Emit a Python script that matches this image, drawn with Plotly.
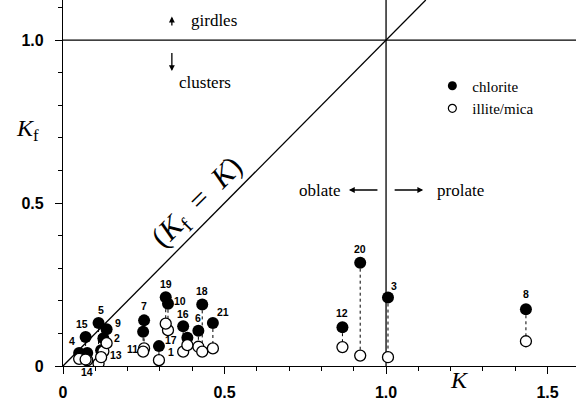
import plotly.graph_objects as go

# Sample numbers and shape parameters (K on x, Kf on y)
sample_ids = [1, 2, 3, 4, 5, 6, 7, 8, 9, 10, 11, 12, 13, 14, 15, 16, 17, 18, 19, 20, 21]
k_values = [0.297, 0.125, 1.006, 0.050, 0.110, 0.419, 0.251, 1.433, 0.135, 0.325, 0.248,
            0.865, 0.118, 0.075, 0.070, 0.372, 0.385, 0.431, 0.318, 0.920, 0.464]
kf_chlorite = [0.061, 0.085, 0.210, 0.040, 0.132, 0.108, 0.140, 0.174, 0.113, 0.191, 0.105,
               0.119, 0.048, 0.040, 0.089, 0.122, 0.087, 0.189, 0.211, 0.317, 0.132]
kf_illite = [0.018, 0.045, 0.027, 0.022, 0.008, 0.059, 0.054, 0.076, 0.070, 0.110, 0.044,
             0.058, 0.027, 0.018, 0.020, 0.044, 0.064, 0.044, 0.130, 0.032, 0.054]

X_MAX = 1.588
Y_MAX = 1.123

SERIF = "Liberation Serif, Times New Roman, serif"
SANS = "Liberation Sans, Arial, sans-serif"

fig = go.Figure()

# Reference lines: Kf = K diagonal, Kf = 1 and K = 1
for xs, ys in (([0, Y_MAX], [0, Y_MAX]), ([0, X_MAX], [1, 1]), ([1, 1], [0, Y_MAX])):
    fig.add_trace(go.Scatter(x=xs, y=ys, mode="lines", line=dict(color="black", width=1.3),
                             showlegend=False, hoverinfo="skip"))

# Dotted tie lines between the two minerals of each sample
tie_x, tie_y = [], []
for k, c, i in zip(k_values, kf_chlorite, kf_illite):
    tie_x += [k, k, None]
    tie_y += [c, i, None]
fig.add_trace(go.Scatter(x=tie_x, y=tie_y, mode="lines",
                         line=dict(color="black", width=1, dash="dot"),
                         showlegend=False, hoverinfo="skip"))

fig.add_trace(go.Scatter(x=k_values, y=kf_chlorite, mode="markers", name="chlorite",
                         marker=dict(symbol="circle", size=12, color="black"),
                         showlegend=False))
fig.add_trace(go.Scatter(x=k_values, y=kf_illite, mode="markers", name="illite/mica",
                         marker=dict(symbol="circle", size=11, color="white",
                                     line=dict(color="black", width=1.3)),
                         showlegend=False))

# Legend entries with smaller symbols
fig.add_trace(go.Scatter(x=[None], y=[None], mode="markers", name="chlorite",
                         marker=dict(symbol="circle", size=9, color="black")))
fig.add_trace(go.Scatter(x=[None], y=[None], mode="markers", name="illite/mica",
                         marker=dict(symbol="circle", size=8, color="white",
                                     line=dict(color="black", width=1.2))))

# Sample number labels: which point they sit by, and pixel offsets (right, down)
label_place = {
    1: ("i", 12, -8), 2: ("c", 14, 0), 3: ("c", 6, -12), 4: ("c", -7, -12),
    5: ("c", 2, -13), 6: ("c", 0, -13), 7: ("c", 0, -14), 8: ("c", 0, -15),
    9: ("c", 11, -6), 10: ("c", 12, -3), 11: ("i", -11, -3), 12: ("c", 0, -14),
    13: ("i", 15, -2), 14: ("i", 0, 12), 15: ("c", -4, -13), 16: ("c", 0, -12),
    17: ("c", -16, 2), 18: ("c", 0, -13), 19: ("c", 0, -13), 20: ("c", 0, -14),
    21: ("c", 10, -11),
}
for sid, k, c, i in zip(sample_ids, k_values, kf_chlorite, kf_illite):
    which, dx, dy = label_place[sid]
    fig.add_annotation(x=k, y=c if which == "c" else i, text=f"<b>{sid}</b>",
                       showarrow=False, xshift=dx, yshift=-dy,
                       font=dict(family=SANS, size=10.5, color="black"))

# Direction arrows and their captions
arrow_style = dict(showarrow=True, arrowhead=2, arrowsize=0.9, arrowwidth=1.3,
                   arrowcolor="black", axref="x", ayref="y", text="")
fig.add_annotation(x=0.337, y=1.072, ax=0.337, ay=1.040, **arrow_style)
fig.add_annotation(x=0.337, y=0.905, ax=0.337, ay=0.965, **arrow_style)
fig.add_annotation(x=0.885, y=0.54, ax=0.978, ay=0.54, **arrow_style)
fig.add_annotation(x=1.115, y=0.54, ax=1.022, ay=0.54, **arrow_style)

text_font = dict(family=SERIF, size=17, color="black")
fig.add_annotation(x=0.39, y=1.06, text="girdles", showarrow=False, xanchor="left", font=text_font)
fig.add_annotation(x=0.44, y=0.87, text="clusters", showarrow=False, font=text_font)
fig.add_annotation(x=0.867, y=0.54, text="oblate", showarrow=False, xanchor="right", font=text_font)
fig.add_annotation(x=1.152, y=0.54, text="prolate", showarrow=False, xanchor="left", font=text_font)
fig.add_annotation(x=0.418, y=0.50,
                   text="(<i>K</i><sub>f</sub>&nbsp;&nbsp;=&nbsp;&nbsp;<i>K</i>)", showarrow=False,
                   textangle=-45, font=dict(family=SERIF, size=30, color="black"))

# Axis titles
fig.add_annotation(xref="paper", yref="paper", x=-0.095, y=0.69, text="<i>K</i><sub>f</sub>",
                   showarrow=False, font=dict(family=SERIF, size=24, color="black"))
fig.add_annotation(xref="paper", yref="paper", x=0.795, y=-0.08, text="<i>K</i>",
                   showarrow=False, font=dict(family=SERIF, size=24, color="black"))

axis_common = dict(showgrid=False, zeroline=False, showline=True, linecolor="black",
                   linewidth=1.3, ticks="outside", ticklen=7, tickwidth=1.3, tickcolor="black",
                   tickfont=dict(family=SANS, size=16, color="black"),
                   minor=dict(ticks="outside", ticklen=4, tickwidth=1, tickcolor="black", dtick=0.1))

fig.update_xaxes(range=[0, X_MAX], tickvals=[0, 0.5, 1.0, 1.5],
                 ticktext=["<b>0</b>", "<b>0.5</b>", "<b>1.0</b>", "<b>1.5</b>"],
                 ticklabelstandoff=5, **axis_common)
fig.update_yaxes(range=[0, Y_MAX], tickvals=[0, 0.5, 1.0],
                 ticktext=["<b>0</b>", "<b>0.5</b>", "<b>1.0</b>"],
                 ticklabelstandoff=8, **axis_common)

fig.update_layout(
    width=576, height=414,
    margin=dict(l=63, r=0, t=0, b=48),
    plot_bgcolor="white", paper_bgcolor="white",
    legend=dict(x=0.72, y=0.81, xanchor="left", yanchor="top",
                bgcolor="rgba(0,0,0,0)", font=dict(family=SERIF, size=15, color="black"),
                itemwidth=30, tracegroupgap=0),
)

fig.write_html("out.html")
